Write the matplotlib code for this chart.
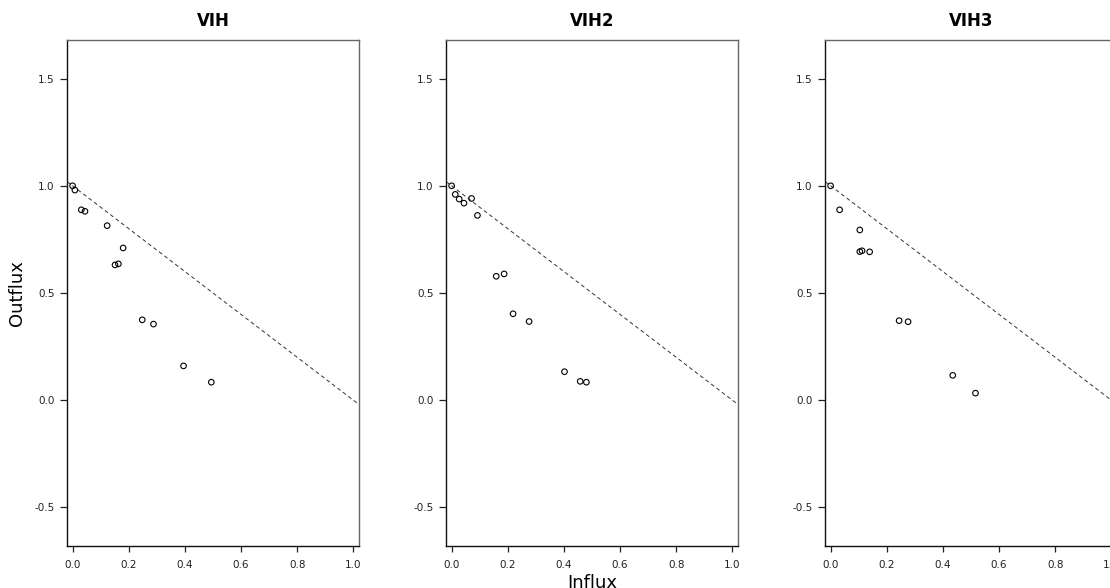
import numpy as np
import matplotlib.pyplot as plt

plt.rcParams['font.family'] = ['DejaVu Sans']

titles = ["VIH", "VIH2", "VIH3"]

# influx / outflux per variable set
vih_in = [0.0, 0.008, 0.031, 0.044, 0.123, 0.18, 0.151, 0.163, 0.248, 0.288, 0.395, 0.494]
vih_out = [1.0, 0.98, 0.888, 0.881, 0.814, 0.71, 0.631, 0.636, 0.375, 0.355, 0.16, 0.084]

vih2_in = [0.0, 0.013, 0.027, 0.044, 0.071, 0.092, 0.159, 0.187, 0.219, 0.276, 0.402, 0.458, 0.48]
vih2_out = [1.0, 0.96, 0.938, 0.919, 0.941, 0.862, 0.578, 0.589, 0.403, 0.367, 0.133, 0.088, 0.084]

vih3_in = [0.0, 0.032, 0.104, 0.104, 0.112, 0.139, 0.244, 0.276, 0.435, 0.516]
vih3_out = [1.0, 0.888, 0.794, 0.693, 0.697, 0.692, 0.371, 0.366, 0.116, 0.033]

influx = [vih_in, vih2_in, vih3_in]
outflux = [vih_out, vih2_out, vih3_out]

xticks = [0.0, 0.2, 0.4, 0.6, 0.8, 1.0]
yticks = [-0.5, 0.0, 0.5, 1.0, 1.5]

W, H = 1110, 588
fig = plt.figure(figsize=(W / 100, H / 100), dpi=100)

lefts = [67, 446, 825]
top, bottom, width = 40, 546, 292

for i in range(3):
    ax = fig.add_axes([lefts[i] / W, (H - bottom) / H, width / W, (bottom - top) / H])
    ax.scatter(influx[i], outflux[i], s=16, facecolors='none', edgecolors='black', linewidths=0.8, zorder=3)
    ax.axline((0, 1), slope=-1, color='#333333', lw=0.7, linestyle=(0, (4, 3)))
    ax.set_xlim(-0.02, 1.02)
    ax.set_ylim(-0.68, 1.68)
    ax.set_xticks(xticks)
    ax.set_yticks(yticks)
    ax.set_xticklabels([f"{v:.1f}" for v in xticks])
    ax.set_yticklabels([f"{v:.1f}" for v in yticks])
    ax.tick_params(labelsize=7.5, colors='#222222', length=5, width=0.9, pad=4)
    ax.tick_params(axis='x', length=4, pad=6)
    for s in ['left', 'bottom']:
        ax.spines[s].set_color('#111111')
        ax.spines[s].set_linewidth(1.0)
    for s in ['top', 'right']:
        ax.spines[s].set_color('#666666')
        ax.spines[s].set_linewidth(1.0)
    ax.set_title(titles[i], fontsize=12, fontweight='bold', pad=10)
    if i == 0:
        ax.set_ylabel("Outflux", fontsize=13, labelpad=6)
    if i == 1:
        ax.set_xlabel("Influx", fontsize=13, labelpad=3)

fig.savefig("out.png", dpi=100)
